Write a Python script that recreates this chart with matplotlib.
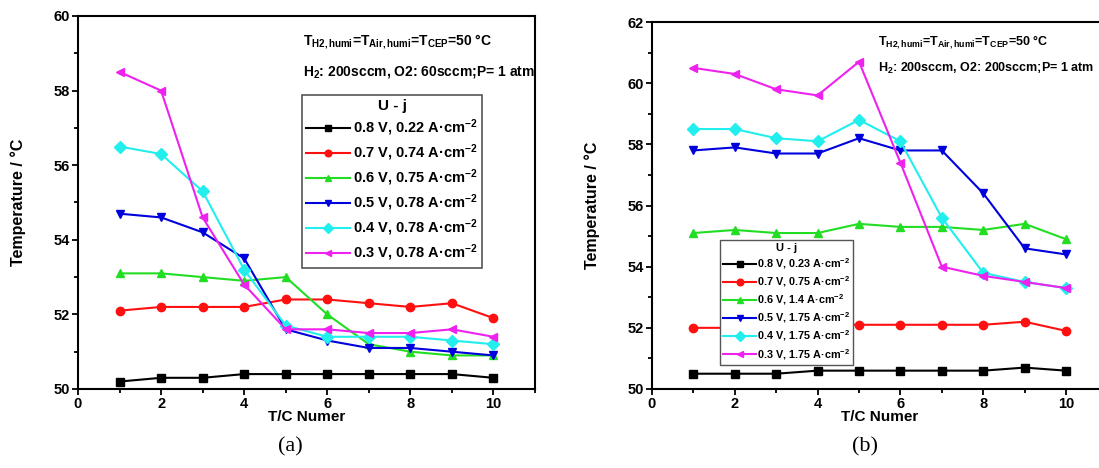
import matplotlib
matplotlib.use("Agg")
import matplotlib.pyplot as plt
from matplotlib.ticker import MultipleLocator

plt.rcParams['font.family'] = ['Liberation Sans', 'DejaVu Sans']
plt.rcParams['font.weight'] = 'bold'
plt.rcParams['mathtext.fontset'] = 'custom'
plt.rcParams['mathtext.rm'] = 'Liberation Sans:bold'
plt.rcParams['mathtext.it'] = 'Liberation Sans:bold'
plt.rcParams['mathtext.bf'] = 'Liberation Sans:bold'
plt.rcParams['mathtext.sf'] = 'Liberation Sans:bold'
plt.rcParams['mathtext.default'] = 'rm'

tc = [1, 2, 3, 4, 5, 6, 7, 8, 9, 10]

# Panel (a)
labels_a = ["0.8 V, 0.22 A·cm$^{-2}$", "0.7 V, 0.74 A·cm$^{-2}$", "0.6 V, 0.75 A·cm$^{-2}$",
            "0.5 V, 0.78 A·cm$^{-2}$", "0.4 V, 0.78 A·cm$^{-2}$", "0.3 V, 0.78 A·cm$^{-2}$"]
a_08 = [50.2, 50.3, 50.3, 50.4, 50.4, 50.4, 50.4, 50.4, 50.4, 50.3]
a_07 = [52.1, 52.2, 52.2, 52.2, 52.4, 52.4, 52.3, 52.2, 52.3, 51.9]
a_06 = [53.1, 53.1, 53.0, 52.9, 53.0, 52.0, 51.2, 51.0, 50.9, 50.9]
a_05 = [54.7, 54.6, 54.2, 53.5, 51.6, 51.3, 51.1, 51.1, 51.0, 50.9]
a_04 = [56.5, 56.3, 55.3, 53.2, 51.7, 51.4, 51.4, 51.4, 51.3, 51.2]
a_03 = [58.5, 58.0, 54.6, 52.8, 51.6, 51.6, 51.5, 51.5, 51.6, 51.4]

# Panel (b)
labels_b = ["0.8 V, 0.23 A·cm$^{-2}$", "0.7 V, 0.75 A·cm$^{-2}$", "0.6 V, 1.4 A·cm$^{-2}$",
            "0.5 V, 1.75 A·cm$^{-2}$", "0.4 V, 1.75 A·cm$^{-2}$", "0.3 V, 1.75 A·cm$^{-2}$"]
b_08 = [50.5, 50.5, 50.5, 50.6, 50.6, 50.6, 50.6, 50.6, 50.7, 50.6]
b_07 = [52.0, 52.0, 52.0, 52.1, 52.1, 52.1, 52.1, 52.1, 52.2, 51.9]
b_06 = [55.1, 55.2, 55.1, 55.1, 55.4, 55.3, 55.3, 55.2, 55.4, 54.9]
b_05 = [57.8, 57.9, 57.7, 57.7, 58.2, 57.8, 57.8, 56.4, 54.6, 54.4]
b_04 = [58.5, 58.5, 58.2, 58.1, 58.8, 58.1, 55.6, 53.8, 53.5, 53.3]
b_03 = [60.5, 60.3, 59.8, 59.6, 60.7, 57.4, 54.0, 53.7, 53.5, 53.3]

colors = ['#000000', '#FF1010', '#22DD22', '#0000DD', '#22EEEE', '#EE22EE']
markers = ['s', 'o', '^', 'v', 'D', '<']

fig = plt.figure(figsize=(10.99, 4.68), dpi=100)

W, H = 1099.0, 468.0
ax1 = fig.add_axes([78 / W, 1 - 389 / H, (535 - 78) / W, (389 - 16) / H])
ax2 = fig.add_axes([652 / W, 1 - 389 / H, (11 * 41.4) / W, (389 - 22) / H])


def style(ax, ymin, ymax):
    ax.set_xlim(0, 11)
    ax.set_ylim(ymin, ymax)
    ax.xaxis.set_major_locator(MultipleLocator(2))
    ax.xaxis.set_minor_locator(MultipleLocator(1))
    ax.yaxis.set_major_locator(MultipleLocator(2))
    ax.yaxis.set_minor_locator(MultipleLocator(1))
    ax.tick_params(which='major', direction='out', length=4, width=1.3, labelsize=10.5, pad=2)
    ax.tick_params(which='minor', direction='out', length=3, width=1.3)
    for s in ax.spines.values():
        s.set_linewidth(1.5)
    for lab in ax.get_xticklabels() + ax.get_yticklabels():
        lab.set_fontweight('bold')
    ax.set_xlabel('T/C Numer', fontsize=11, fontweight='bold', labelpad=-1)
    ax.set_ylabel('Temperature / °C', fontsize=11.5, fontweight='bold', labelpad=20)


series_a = [a_08, a_07, a_06, a_05, a_04, a_03]
for ys, c, m, lab in zip(series_a, colors, markers, labels_a):
    ax1.plot(tc, ys, color=c, marker=m, markersize=6, linewidth=1.5, label=lab)
style(ax1, 50, 60)
leg1 = ax1.legend(title='U - j', loc='upper left', bbox_to_anchor=(302 / W, 1 - 95 / H),
                  bbox_transform=fig.transFigure, fontsize=10.5, title_fontsize=11,
                  handlelength=3.0, handletextpad=0.2, numpoints=1, frameon=True,
                  fancybox=False, edgecolor='#555555', borderpad=0.3, labelspacing=0.3,
                  markerscale=0.8, borderaxespad=0, framealpha=1)
leg1.get_frame().set_linewidth(1.2)
leg1.get_title().set_fontweight('bold')
ax1.text(303 / W, 1 - 42 / H, r"T$_{H2,humi}$=T$_{Air,humi}$=T$_{CEP}$=50 °C",
         transform=fig.transFigure, fontsize=10, fontweight='bold', va='center', ha='left')
ax1.text(303 / W, 1 - 72 / H, r"H$_2$: 200sccm, O2: 60sccm;P= 1 atm",
         transform=fig.transFigure, fontsize=10, fontweight='bold', va='center', ha='left')

series_b = [b_08, b_07, b_06, b_05, b_04, b_03]
for ys, c, m, lab in zip(series_b, colors, markers, labels_b):
    ax2.plot(tc, ys, color=c, marker=m, markersize=6, linewidth=1.5, label=lab)
style(ax2, 50, 62)
leg2 = ax2.legend(title='U - j', loc='upper left', bbox_to_anchor=(720 / W, 1 - 240 / H),
                  bbox_transform=fig.transFigure, fontsize=7.8, title_fontsize=8,
                  handlelength=3.0, handletextpad=0.1, numpoints=1, frameon=True,
                  fancybox=False, edgecolor='#555555', borderpad=0.3, labelspacing=0.3,
                  markerscale=0.8, borderaxespad=0, framealpha=1)
leg2.get_frame().set_linewidth(1.0)
leg2.get_title().set_fontweight('bold')
ax2.text(878 / W, 1 - 42 / H, r"T$_{H2,humi}$=T$_{Air,humi}$=T$_{CEP}$=50 °C",
         transform=fig.transFigure, fontsize=9, fontweight='bold', va='center', ha='left')
ax2.text(878 / W, 1 - 68 / H, r"H$_2$: 200sccm, O2: 200sccm;P= 1 atm",
         transform=fig.transFigure, fontsize=9, fontweight='bold', va='center', ha='left')

fig.text(290 / W, 1 - 447 / H, '(a)', fontsize=16, fontweight='normal',
         family=['Liberation Serif'], ha='center', va='center')
fig.text(865 / W, 1 - 447 / H, '(b)', fontsize=16, fontweight='normal',
         family=['Liberation Serif'], ha='center', va='center')

fig.savefig('out.png', dpi=100)
